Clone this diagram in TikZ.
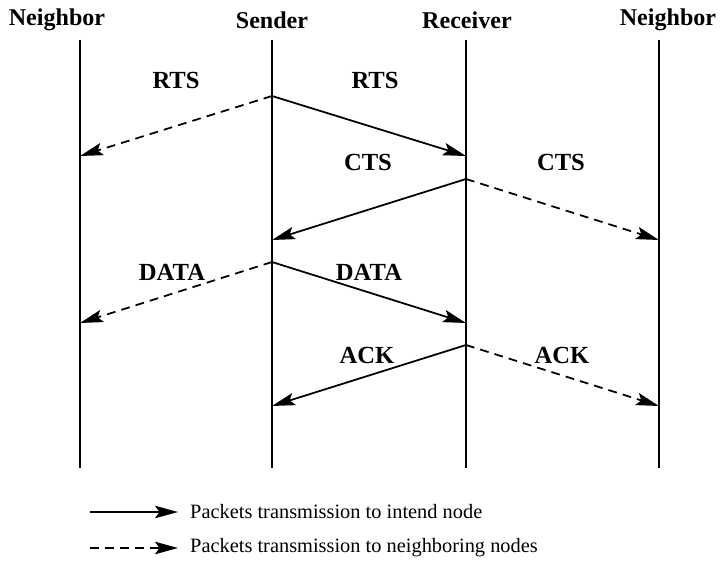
\documentclass[tikz,border=0pt]{standalone}
\usepackage{fontspec}
\setmainfont{Liberation Serif}
\usetikzlibrary{arrows.meta}

\tikzset{
  msg/.style={line width=1pt,-{Stealth[length=4.6mm,width=2.5mm,inset=0.9mm]}},
  nbr/.style={msg,dash pattern=on 5pt off 3.5pt},
  life/.style={line width=1pt},
  hdr/.style={font=\fontsize{13.7}{16}\selectfont\bfseries},
  pkt/.style={font=\fontsize{14}{16}\selectfont\bfseries},
  lgd/.style={font=\fontsize{11.6}{14}\selectfont,anchor=west}
}

\begin{document}
\begin{tikzpicture}[x=0.02cm,y=-0.02cm]
  \useasboundingbox (0,0) rectangle (727,564);

  % headers
  \node [hdr] (nl) at (57,20) {Neighbor};
  \node [hdr] (snd) at (272,20) {Sender};
  \node [hdr] (rcv) at (467,20) {Receiver};
  \node [hdr] (nr) at (668,20) {Neighbor};

  % time lines
  \coordinate (NLt) at (80,40);   \coordinate (NLb) at (80,468);
  \coordinate (St) at (272,40);   \coordinate (Sb) at (272,468);
  \coordinate (Rt) at (466,40);   \coordinate (Rb) at (466,468);
  \coordinate (NRt) at (659,40);  \coordinate (NRb) at (659,468);
  \draw [life] (NLt)--(NLb);
  \draw [life] (St)--(Sb);
  \draw [life] (Rt)--(Rb);
  \draw [life] (NRt)--(NRb);

  % RTS
  \coordinate (S1) at (272,96);
  \coordinate (NL1) at (80,156);
  \coordinate (R1) at (466,156);
  \draw [nbr] (S1)--(NL1);
  \draw [msg] (S1)--(R1);
  \node [pkt] (rtsl) at (176,80) {RTS};
  \node [pkt] (rtsr) at (375,80) {RTS};

  % CTS
  \coordinate (R2) at (466,179);
  \coordinate (S2) at (272,240);
  \coordinate (NR2) at (659,240);
  \draw [msg] (R2)--(S2);
  \draw [nbr] (R2)--(NR2);
  \node [pkt] (ctsl) at (368,162) {CTS};
  \node [pkt] (ctsr) at (561,162) {CTS};

  % DATA
  \coordinate (S3) at (272,262);
  \coordinate (NL3) at (80,323);
  \coordinate (R3) at (466,323);
  \draw [nbr] (S3)--(NL3);
  \draw [msg] (S3)--(R3);
  \node [pkt] (datal) at (172,272) {DATA};
  \node [pkt] (datar) at (369,272) {DATA};

  % ACK
  \coordinate (R4) at (466,345);
  \coordinate (S4) at (272,406);
  \coordinate (NR4) at (659,406);
  \draw [msg] (R4)--(S4);
  \draw [nbr] (R4)--(NR4);
  \node [pkt] (ackl) at (367,355) {ACK};
  \node [pkt] (ackr) at (562,355) {ACK};

  % legend
  \coordinate (L1a) at (90,512);  \coordinate (L1b) at (178,512);
  \coordinate (L2a) at (90,548);  \coordinate (L2b) at (178,548);
  \draw [msg] (L1a)--(L1b);
  \draw [nbr] (L2a)--(L2b);
  \node [lgd] (lg1) at (184,512) {Packets transmission to intend node};
  \node [lgd] (lg2) at (184,548) {Packets transmission to neighboring nodes};
\end{tikzpicture}
\end{document}
